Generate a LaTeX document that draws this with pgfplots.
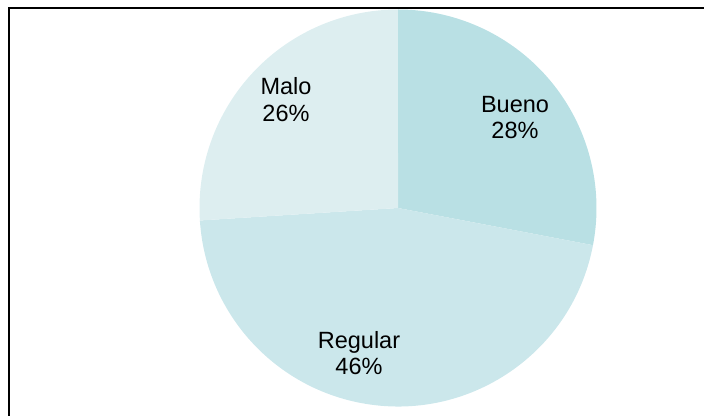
\documentclass[border=0pt]{standalone}
\usepackage{fontspec}
\setmainfont{Liberation Sans}
\usepackage{pgfplots}
\usepackage{pgfplotstable}
\pgfplotsset{compat=1.18}
\definecolor{cBueno}{RGB}{185,224,228}
\definecolor{cRegular}{RGB}{203,231,235}
\definecolor{cMalo}{RGB}{221,238,240}
\pgfplotstableread{
label value
Bueno 28
Regular 46
Malo 26
}\piedata
\begin{document}
\begin{tikzpicture}
\pgfplotstablegetelem{0}{value}\of\piedata \let\vA\pgfplotsretval
\pgfplotstablegetelem{1}{value}\of\piedata \let\vB\pgfplotsretval
\pgfplotstablegetelem{2}{value}\of\piedata \let\vC\pgfplotsretval
\pgfmathsetmacro{\tot}{\vA+\vB+\vC}
\pgfmathsetmacro{\aA}{90-(\vA/\tot)*360}
\pgfmathsetmacro{\aB}{\aA-(\vB/\tot)*360}
\pgfmathsetmacro{\aC}{\aB-(\vC/\tot)*360}
\def\R{198.5pt}
\begin{axis}[
  scale only axis, width=704pt, height=415pt,
  xmin=0, xmax=704, ymin=0, ymax=415,
  hide axis, clip=true,
]
\path (axis cs:0,0) rectangle (axis cs:704,415);
\fill[cBueno] (axis cs:398,207) -- ++(90:\R) arc[start angle=90, end angle=\aA, radius=\R] -- cycle;
\fill[cRegular] (axis cs:398,207) -- ++(\aA:\R) arc[start angle=\aA, end angle=\aB, radius=\R] -- cycle;
\fill[cMalo] (axis cs:398,207) -- ++(\aB:\R) arc[start angle=\aB, end angle=\aC, radius=\R] -- cycle;
\draw[line width=2.4pt] (axis cs:9.2,-20) |- (axis cs:730,407.2);
\tikzset{lbl/.style={anchor=base, inner sep=0pt, font=\fontsize{23.5}{26}\selectfont}}
\node[lbl] at (axis cs:515,302) {Bueno};
\node[lbl] at (axis cs:515,276) {28\%};
\node[lbl] at (axis cs:286,320) {Malo};
\node[lbl] at (axis cs:286,293.3) {26\%};
\node[lbl] at (axis cs:359,66) {Regular};
\node[lbl] at (axis cs:359,40) {46\%};
\end{axis}
\end{tikzpicture}
\end{document}
